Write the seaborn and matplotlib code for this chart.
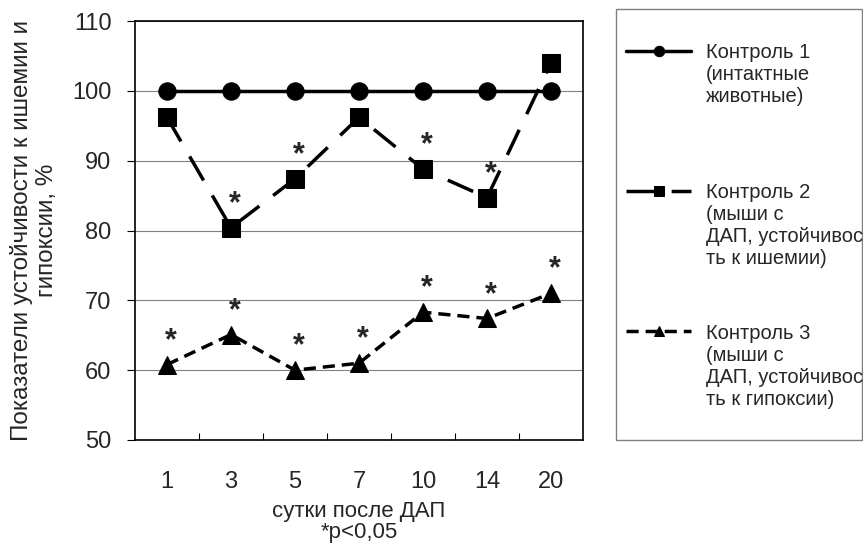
import numpy as np
import pandas as pd
import seaborn as sns
import matplotlib.pyplot as plt
from matplotlib.patches import Rectangle

# values
days = ["1", "3", "5", "7", "10", "14", "20"]
control1 = [100, 100, 100, 100, 100, 100, 100]
control2 = [96.2, 80.4, 87.4, 96.2, 88.8, 84.7, 104.0]
control3 = [60.8, 65.1, 60.0, 61.0, 68.3, 67.4, 71.0]
signif2 = [False, True, True, False, True, True, False]
signif3 = [True, True, True, True, True, True, True]
groups = ["Контроль 1\n(интактные\nживотные)\n",
          "Контроль 2\n(мыши с\nДАП, устойчивос\nть к ишемии)",
          "Контроль 3\n(мыши с\nДАП, устойчивос\nть к гипоксии)"]

df = pd.DataFrame({
    "day": days * 3,
    "value": control1 + control2 + control3,
    "group": np.repeat(groups, len(days)),
})

sns.set_style("white")
plt.rcParams["font.family"] = ["Liberation Sans", "DejaVu Sans"]

fig = plt.figure(figsize=(8.63, 5.51), dpi=100)
ax = fig.add_axes([135 / 863, 1 - 440 / 551, 448 / 863, 419 / 551])

sns.lineplot(data=df, x="day", y="value", style="group",
             markers=["o", "s", "^"], dashes=["", (8, 5), (3.5, 2)],
             color="black", lw=2.5, markersize=12.5, markeredgecolor="black",
             sort=False, errorbar=None, legend=False, ax=ax)

# significance marks
for series, flags in [(control2, signif2), (control3, signif3)]:
    for d, v, s in zip(days, series, flags):
        if s:
            ax.annotate("*", (d, v), xytext=(3, 17), textcoords="offset points",
                        ha="center", va="center", fontsize=22,
                        fontweight="bold")

ax.set_xlim(-0.5, 6.5)
ax.set_ylim(50, 110)
ax.set_yticks(range(50, 111, 10))
ax.set_xticks(np.arange(0.5, 6, 1), minor=True)
ax.yaxis.grid(True, color="#808080", lw=0.8)
ax.xaxis.grid(False)
for sp in ax.spines.values():
    sp.set_color("black")
    sp.set_linewidth(1.2)

ax.tick_params(axis="y", direction="out", left=True, length=6, width=0.8,
               pad=11, labelsize=17, color="black")
ax.tick_params(axis="x", which="major", length=0, pad=22, labelsize=17)
ax.tick_params(axis="x", which="minor", direction="in", bottom=True,
               length=5, width=0.8, color="black")

ax.set_xlabel("сутки после ДАП\n*p<0,05", fontsize=16, labelpad=6,
              linespacing=1.0)
ax.set_ylabel("Показатели устойчивости к ишемии и\nгипоксии, %", fontsize=17.5)
ax.yaxis.set_label_coords(-0.172, 0.5)

# legend frame
fig.patches.append(Rectangle((616 / 863, 1 - 440 / 551), 246 / 863, 431 / 551,
                             transform=fig.transFigure, fill=False,
                             edgecolor="#808080", lw=1))

leg = fig.legend(ax.lines[:3], groups, loc="upper left",
                 bbox_to_anchor=(626 / 863, 1 - 43 / 551), frameon=False,
                 borderpad=0, borderaxespad=0, handlelength=3.25,
                 handletextpad=0.7, labelspacing=2.75, fontsize=14.5,
                 handleheight=0.9, markerscale=0.6)
for col in leg._legend_handle_box.get_children():
    for item in col.get_children():
        item.align = "top"

fig.savefig("out.png", dpi=100)
